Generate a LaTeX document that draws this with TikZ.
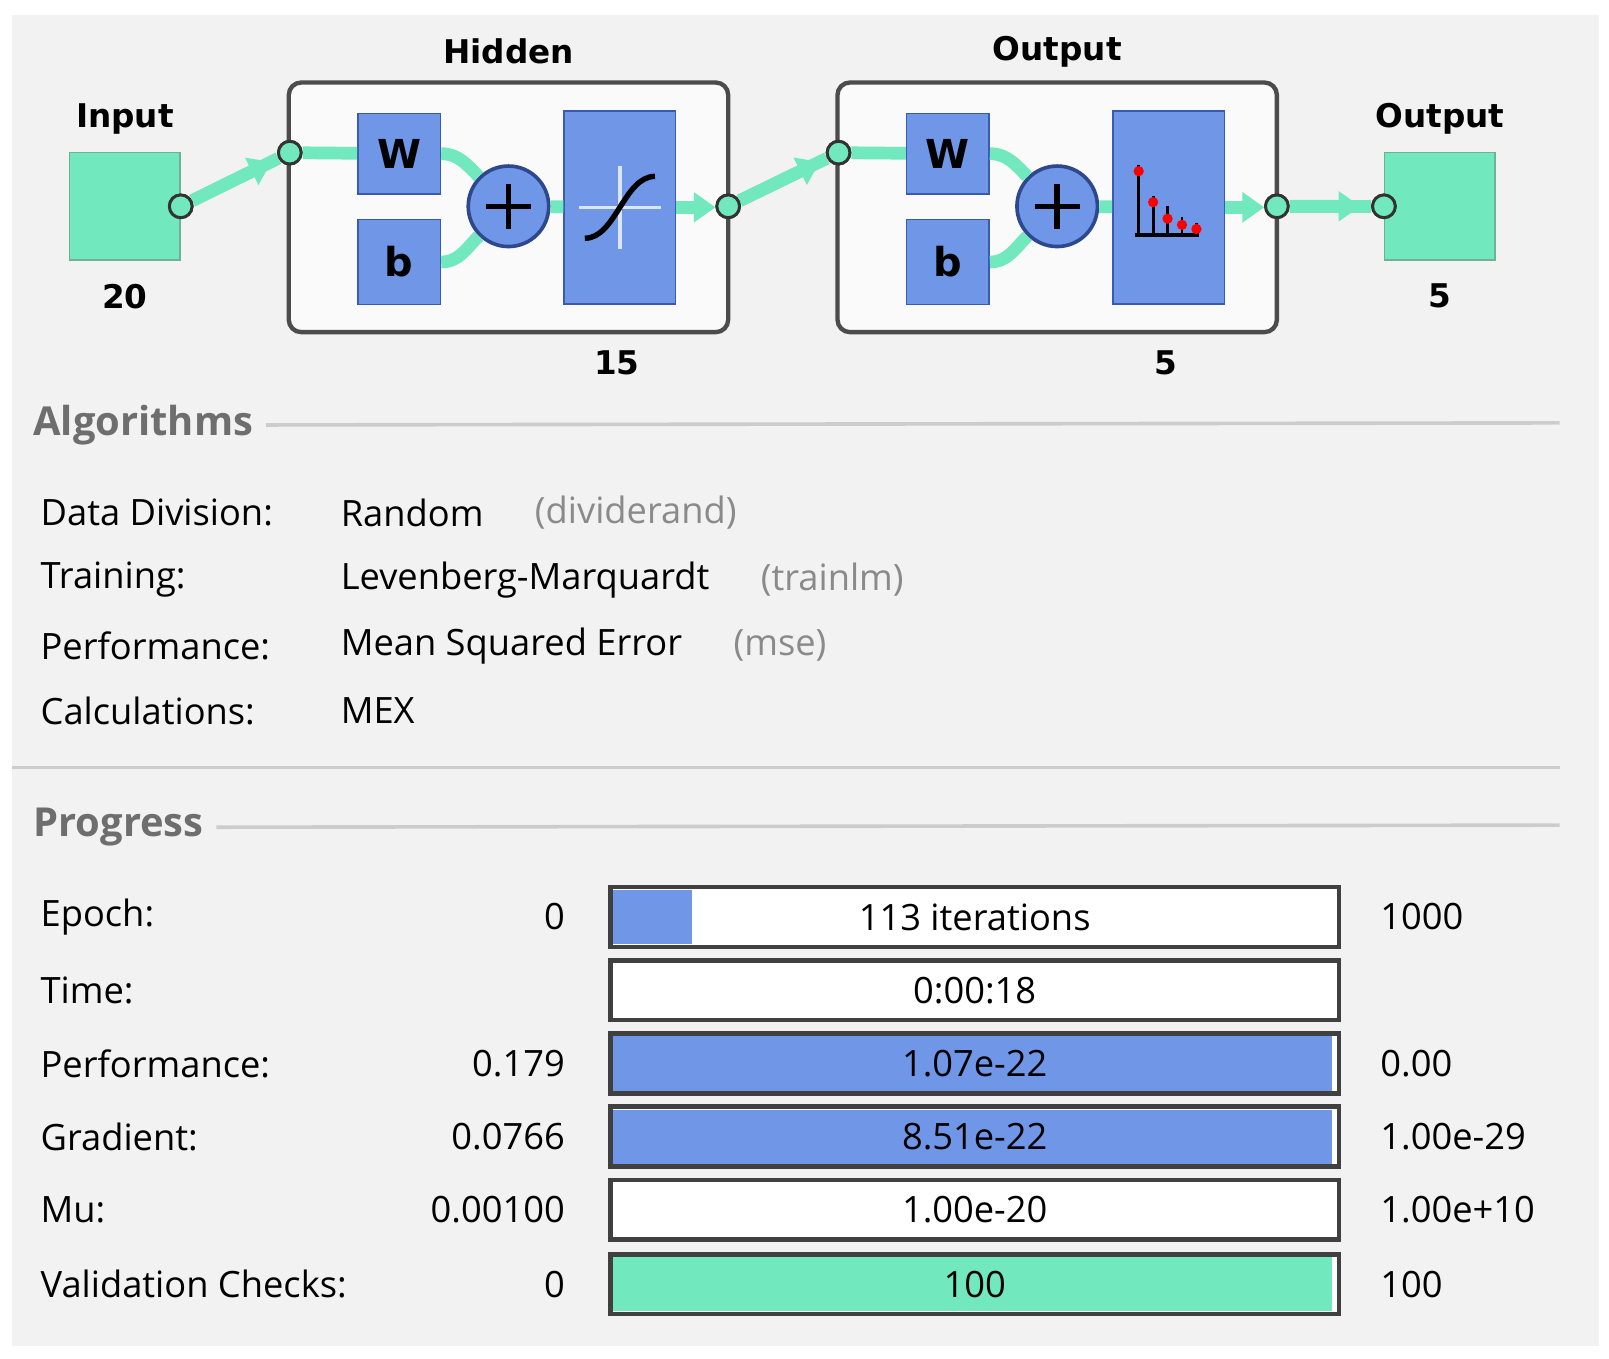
\documentclass[tikz,border=0pt]{standalone}
\usepackage{fontspec}
\setmainfont{Open Sans}
\newfontfamily\netfont{DejaVu Sans}
\usetikzlibrary{positioning,arrows.meta,calc}
\definecolor{panel}{HTML}{F2F2F2}
\definecolor{mint}{HTML}{72E8BE}
\definecolor{mintdk}{HTML}{2F8F6A}
\definecolor{blu}{HTML}{7096E8}
\definecolor{bludk}{HTML}{3A5AB0}
\definecolor{graytxt}{HTML}{8A8A8A}
\definecolor{hdr}{HTML}{6E6E6E}
\begin{document}
\begin{tikzpicture}[x=0.01cm,y=-0.01cm,
  lbl/.style={font=\netfont\bfseries\fontsize{9}{10}\selectfont},
  io/.style={draw=mintdk!70,fill=mint,minimum width=1.07cm,minimum height=1.04cm,inner sep=0},
  layer/.style={draw=black!70,line width=1.2pt,rounded corners=1.2mm,fill=white!60!panel},
  blk/.style={draw=bludk,fill=blu,inner sep=0,font=\netfont\bfseries\fontsize{11}{12}\selectfont},
  port/.style={circle,draw=black!80,fill=mint,minimum size=0.22cm,inner sep=0,line width=0.8pt},
  wire/.style={mint,line width=3.5pt},
  tip/.style={wire,-{Triangle[length=6pt,width=8pt]}},
  txt/.style={anchor=west,font=\fontsize{10}{12}\selectfont},
  note/.style={txt,text=graytxt},
  num/.style={anchor=east,font=\fontsize{10}{12}\selectfont},
  bar/.style={draw=black!75,line width=1.3pt,fill=white,minimum width=7.06cm,minimum height=0.58cm,inner sep=0,font=\fontsize{10}{12}\selectfont}]
\useasboundingbox (0,0) rectangle (1560,1317);
\fill[white] (0,0) rectangle (1560,1317);
\fill[panel] (12,15) rectangle (1550,1305);

% network
\node[io] (inp) at (121,200) {};
\node[lbl,above=0.5mm of inp] {Input};
\node[lbl,below=1mm of inp] {20};
\node[io] (out) at (1396,200) {};
\node[lbl,above=0.5mm of out] {Output};
\node[lbl,below=1mm of out] {5};

\foreach \n/\cx/\ttl/\sz in {hid/493/Hidden/15,lay/1025/Output/5}{
  \draw[layer] (\cx-213,80) rectangle (\cx+213,322);
  \node[lbl] at (\cx,50) {\ttl};
  \node[lbl] at (\cx+105,352) {\sz};
  \node[blk,minimum width=0.8cm,minimum height=0.78cm] (\n w) at (\cx-106,149) {W};
  \node[blk,minimum width=0.8cm,minimum height=0.82cm] (\n b) at (\cx-106,254) {b};
  \node[circle,draw=bludk!80!black,line width=1pt,fill=blu,minimum size=0.78cm,inner sep=0] (\n s) at (\cx,200) {};
  \draw[line width=1.5pt] (\n s.center) ++(-22,0) -- ++(44,0) (\n s.center) ++(0,-22) -- ++(0,44);
  \node[blk,minimum width=1.08cm,minimum height=1.87cm] (\n f) at (\cx+108,201) {};
  \node[port] (\n i) at (\cx-212,148) {};
  \node[port] (\n o) at (\cx+213,200) {};
  \draw[wire] (\n i) -- (\n w);
  \draw[wire] (\n w.east) to[out=0,in=135] (\n s);
  \draw[wire] (\n b.east) to[out=0,in=-135] (\n s);
  \draw[wire] (\n s) -- (\n f);
  \draw[tip] (\n f.east) -- ++(38,0);
}
% transfer icons
\draw[white!75!blu,line width=1pt] (hidf.center) ++(-40,0) -- ++(80,0) (hidf.center) ++(0,-40) -- ++(0,80);
\draw[line width=1.5pt] (hidf.center) ++(-34,30) .. controls ++(30,0) and ++(-30,0) .. ++(68,-60);
\foreach \dx/\h in {0/62,14/32,28/22,42/12,56/6}
  \draw[line width=0.8pt] (1104+\dx,228) -- ++(0,-\h-6);
\draw[line width=1pt] (1100,228) -- (1162,228);
\foreach \dx/\h in {0/62,14/32,28/16,42/10,56/6}
  \fill[red] (1104+\dx,228-\h) circle (5);

\node[port] (inpo) at (inp.east) {};
\node[port] (outi) at (out.west) {};
\draw[wire] (inpo) -- (hidi);
\draw[tip] (inpo) -- ($(inpo)!0.83!(hidi)$);
\draw[wire] (hido) -- (layi);
\draw[tip] (hido) -- ($(hido)!0.83!(layi)$);
\draw[wire] (layo) -- (outi);
\draw[tip] (layo) -- ($(layo)!0.78!(outi)$);
\node[port] at (hidi) {};\node[port] at (hido) {};
\node[port] at (layi) {};\node[port] at (layo) {};
\node[port] at (inpo) {};\node[port] at (outi) {};

% algorithms
\node[anchor=west,text=hdr,font=\bfseries\fontsize{11}{12}\selectfont] (alg) at (20,412) {Algorithms};
\draw[black!20,line width=1pt] (alg.east) -- (1512,410);
\foreach \y/\a/\b/\c in {497/Data Division:/Random/{(dividerand)},
                         562/Training:/Levenberg-Marquardt/{(trainlm)},
                         626/Performance:/Mean Squared Error/{(mse)},
                         689/Calculations:/MEX/{}}{
  \node[txt] (a\y) at (27,\y) {\a};
  \node[txt] (b\y) at (318,\y) {\b};
  \node[note,right=2.5mm of b\y.east,anchor=west] {\c};
}
\draw[black!20,line width=1pt] (12,744) -- (1512,744);

% progress
\node[anchor=west,text=hdr,font=\bfseries\fontsize{11}{12}\selectfont] (prg) at (20,802) {Progress};
\draw[black!20,line width=1pt] (prg.east) -- (1512,800);
\foreach \y/\a/\s/\m/\e/\f/\c in {889/Epoch:/0/113 iterations/1000/0.11/blu,
                                  960/Time:/{}/0:00:18/{}/0/blu,
                                  1031/Performance:/0.179/1.07e-22/0.00/1/blu,
                                  1102/Gradient:/0.0766/8.51e-22/1.00e-29/1/blu,
                                  1173/Mu:/0.00100/1.00e-20/1.00e+10/0/blu,
                                  1245/Validation Checks:/0/100/100/1/mint}{
  \node[txt] at (27,\y) {\a};
  \node[num] at (560,\y) {\s};
  \node[bar] (bar\y) at (945,\y) {};
  \ifdim\f pt>0pt
    \fill[\c] ([shift={(5,-5)}]bar\y.south west) rectangle ([shift={(5+\f*697,5)}]bar\y.north west);
  \fi
  \node at (bar\y) {\fontsize{10}{12}\selectfont\m};
  \node[txt] at (1326,\y) {\e};
}
\end{tikzpicture}
\end{document}
